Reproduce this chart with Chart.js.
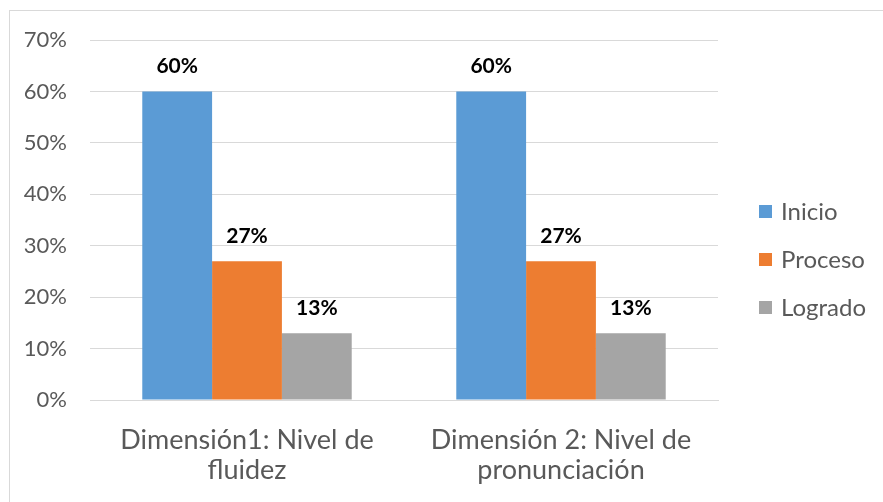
<!DOCTYPE html>
<html><head><meta charset="utf-8">
<script src="https://cdn.jsdelivr.net/npm/chart.js@4/dist/chart.umd.min.js"></script>
<style>
html,body{margin:0;padding:0;background:#fff;overflow:hidden;}
#wrap{position:relative;width:883px;height:502px;}
#frame{position:absolute;left:9px;top:10px;width:900px;height:520px;border:1px solid #d9d9d9;box-sizing:border-box;}
canvas{position:absolute;left:0;top:0;}
</style></head>
<body>
<div id="wrap"><div id="frame"></div><canvas id="c" width="883" height="502"></canvas></div>
<script>
const categories = [["Dimensión1: Nivel de","fluidez"],["Dimensión 2: Nivel de","pronunciación"]];
const seriesNames = ["Inicio","Proceso","Logrado"];
const inicio = [60, 60];
const proceso = [27, 27];
const logrado = [13, 13];
const yTicks = [0,10,20,30,40,50,60,70];
const colors = ["#5B9BD5","#ED7D31","#A5A5A5"];
const FONT = "Lato, 'Open Sans', sans-serif";

const dataLabels = {
  id:'dataLabels',
  afterDatasetsDraw(chart){
    const ctx = chart.ctx;
    ctx.save();
    ctx.font = "bold 21px " + FONT;
    ctx.fillStyle = "#000";
    ctx.textAlign = "center";
    ctx.textBaseline = "middle";
    chart.data.datasets.forEach((ds,i)=>{
      chart.getDatasetMeta(i).data.forEach((bar,j)=>{
        ctx.fillText(ds.data[j] + "%", bar.x, bar.y - 25);
      });
    });
    ctx.restore();
  }
};
const sideLegend = {
  id:'sideLegend',
  afterDraw(chart){
    const ctx = chart.ctx;
    ctx.save();
    ctx.font = "24px " + FONT;
    ctx.textBaseline = "middle";
    ctx.textAlign = "left";
    chart.data.datasets.forEach((ds,i)=>{
      const y = 211 + i*48;
      ctx.fillStyle = ds.backgroundColor;
      ctx.fillRect(759, y-6, 13, 13);
      ctx.fillStyle = "#595959";
      ctx.fillText(ds.label, 781, y+1);
    });
    ctx.restore();
  }
};

new Chart(document.getElementById('c'), {
  type:'bar',
  data:{
    labels: categories,
    datasets:[
      {label:seriesNames[0], data:inicio, backgroundColor:colors[0]},
      {label:seriesNames[1], data:proceso, backgroundColor:colors[1]},
      {label:seriesNames[2], data:logrado, backgroundColor:colors[2]}
    ]
  },
  options:{
    responsive:false, animation:false,
    layout:{padding:{left:0, top:40, right:165, bottom:0}},
    plugins:{legend:{display:false}, tooltip:{enabled:false}},
    datasets:{bar:{categoryPercentage:0.667, barPercentage:1.0}},
    scales:{
      x:{
        grid:{display:false, drawTicks:false},
        border:{display:true, color:"#d9d9d9", width:1},
        ticks:{color:"#595959", font:{family:FONT, size:27, lineHeight:1.12}, padding:25, maxRotation:0, autoSkip:false},
        afterFit(s){ s.height = 102; }
      },
      y:{
        min:0, max:70,
        afterBuildTicks(s){ s.ticks = yTicks.map(v=>({value:v})); },
        grid:{color:"#d9d9d9", drawTicks:false},
        border:{display:false},
        ticks:{color:"#595959", font:{family:FONT, size:22}, padding:23, callback:v=>v+"%"},
        afterFit(s){ s.width = 90; }
      }
    }
  },
  plugins:[dataLabels, sideLegend]
});
</script>
</body></html>
